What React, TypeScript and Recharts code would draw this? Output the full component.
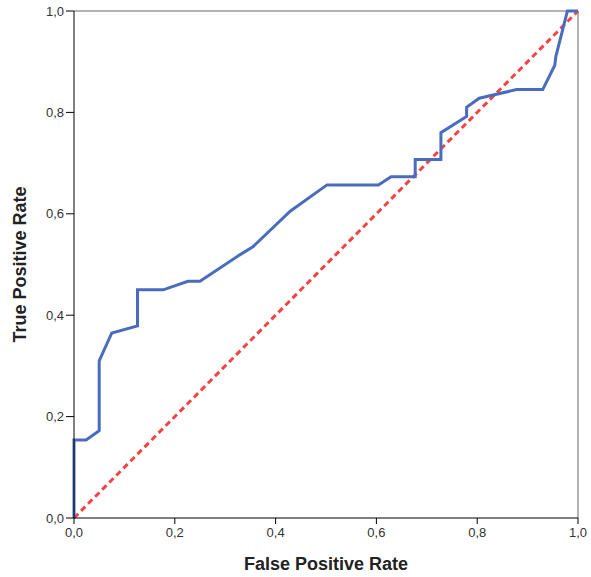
import { LineChart, Line, XAxis, YAxis, ReferenceLine } from 'recharts'

// ROC curve
const rocFpr = [0, 0, 0.024, 0.05, 0.05, 0.075, 0.126, 0.126, 0.177, 0.226, 0.25, 0.329, 0.355, 0.429, 0.502, 0.604, 0.629, 0.677, 0.677, 0.728, 0.728, 0.779, 0.779, 0.804, 0.878, 0.93, 0.954, 0.956, 0.979, 1]
const rocTpr = [0, 0.154, 0.154, 0.172, 0.31, 0.365, 0.379, 0.45, 0.45, 0.467, 0.467, 0.519, 0.535, 0.605, 0.657, 0.657, 0.673, 0.673, 0.707, 0.707, 0.76, 0.792, 0.81, 0.828, 0.845, 0.845, 0.893, 0.91, 1, 1]
const refFpr = [0, 1]
const refTpr = [0, 1]
const ticks = [0, 0.2, 0.4, 0.6, 0.8, 1]

const rocData = rocFpr.map((x, i) => ({ x, y: rocTpr[i] }))
const refData = refFpr.map((x, i) => ({ x, y: refTpr[i] }))

const fmt = (v: number) => v.toFixed(1).replace('.', ',')

export default function App() {
  const tickStyle = { fontSize: 13, fill: '#333', fontFamily: 'Liberation Sans, Arial, sans-serif' }
  const labelStyle = { fontSize: 18, fontWeight: 'bold', fill: '#222', fontFamily: 'Liberation Sans, Arial, sans-serif', textAnchor: 'middle' as const }
  return (
    <div style={{ position: 'absolute', left: 0, top: 0, background: '#fff' }}>
      <LineChart width={591} height={577} margin={{ top: 11, right: 13, left: 0, bottom: 0 }}>
        <XAxis
          type="number"
          dataKey="x"
          domain={[0, 1]}
          ticks={ticks}
          tickFormatter={fmt}
          tick={tickStyle}
          stroke="#000"
          tickSize={6}
          tickMargin={4}
          height={59}
          label={{ value: 'False Positive Rate', position: 'insideBottom', offset: 7, style: labelStyle }}
        />
        <YAxis
          type="number"
          dataKey="y"
          domain={[0, 1]}
          ticks={ticks}
          tickFormatter={fmt}
          tick={tickStyle}
          stroke="#000"
          tickSize={8}
          tickMargin={2}
          width={74}
          label={{ value: 'True Positive Rate', angle: -90, position: 'insideLeft', offset: 20, style: labelStyle }}
        />
        <ReferenceLine y={1} stroke="#999" strokeWidth={1.5} />
        <ReferenceLine x={1} stroke="#999" strokeWidth={1.5} />
        <Line
          data={refData}
          dataKey="y"
          type="linear"
          stroke="#f44343"
          strokeWidth={3}
          strokeDasharray="6 4"
          dot={false}
          isAnimationActive={false}
        />
        <Line
          data={rocData}
          dataKey="y"
          type="linear"
          stroke="#4a6cbf"
          strokeWidth={3}
          dot={false}
          isAnimationActive={false}
        />
      </LineChart>
    </div>
  )
}
